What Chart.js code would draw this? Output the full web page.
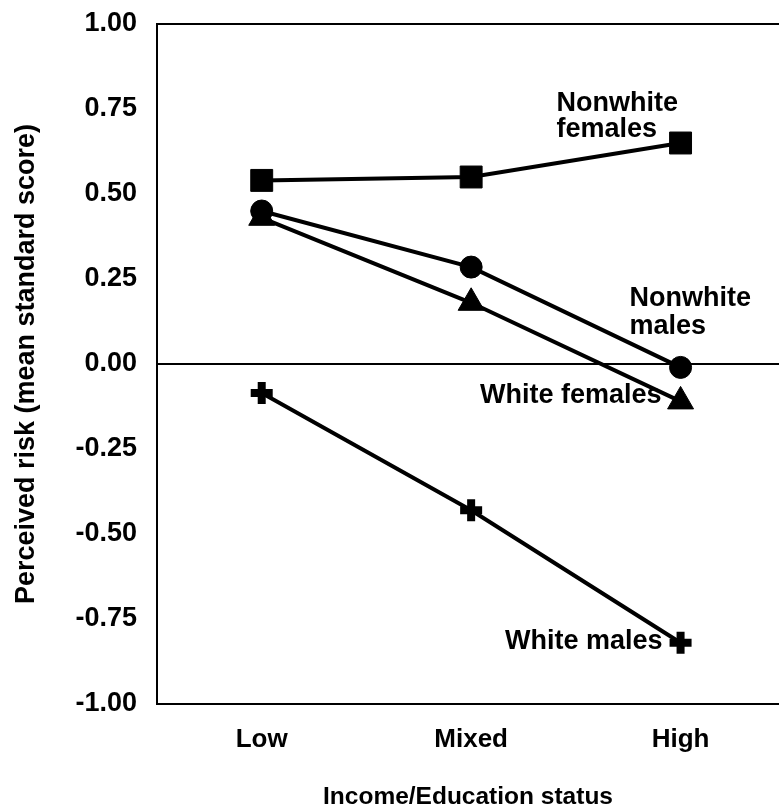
<!DOCTYPE html>
<html>
<head>
<meta charset="utf-8">
<script src="https://cdn.jsdelivr.net/npm/chart.js@4"></script>
<style>
  html, body { margin: 0; padding: 0; background: #fff; }
  #c { display: block; }
</style>
</head>
<body>
<canvas id="c" width="779" height="809"></canvas>
<script>
// ---- data ----
const categories = ['Low', 'Mixed', 'High'];
const nonwhiteFemales = [0.54, 0.55, 0.65];
const nonwhiteMales = [0.45, 0.285, -0.01];
const whiteFemales = [0.43, 0.18, -0.11];
const whiteMales = [-0.085, -0.43, -0.82];
const yTickValues = [-1.00, -0.75, -0.50, -0.25, 0.00, 0.25, 0.50, 0.75, 1.00];
const seriesNames = ['Nonwhite females', 'Nonwhite males', 'White females', 'White males'];

const FONT = '"Liberation Sans", Arial, Helvetica, sans-serif';

function toPoints(arr) {
  return arr.map((v, i) => ({ x: i + 1, y: v }));
}

function ds(label, data, style, radius, pbw) {
  return {
    label: label,
    data: toPoints(data),
    borderColor: '#000',
    backgroundColor: '#000',
    borderWidth: 4,
    pointStyle: style,
    pointRadius: radius,
    pointBorderWidth: pbw,
    pointBackgroundColor: '#000',
    pointBorderColor: '#000',
    tension: 0,
    fill: false
  };
}

// labels drawn next to the "High" point of each series
const seriesLabelLayout = [
  { lines: ['Nonwhite', 'females'], dx: -124, dy: [-39, -13], align: 'left' },
  { lines: ['Nonwhite', 'males'], dx: -51, dy: [-69, -41], align: 'left' },
  { lines: ['White females'], dx: -19, dy: [-6], align: 'right' },
  { lines: ['White males'], dx: -18, dy: [-1], align: 'right' }
];

const labelPlugin = {
  id: 'seriesLabels',
  afterDatasetsDraw(chart) {
    const ctx = chart.ctx;
    ctx.save();
    ctx.fillStyle = '#000';
    ctx.font = 'bold 27px ' + FONT;
    ctx.textBaseline = 'middle';
    seriesLabelLayout.forEach((lay, i) => {
      const meta = chart.getDatasetMeta(i);
      const pt = meta.data[meta.data.length - 1];
      ctx.textAlign = lay.align;
      lay.lines.forEach((t, k) => {
        ctx.fillText(t, pt.x + lay.dx, pt.y + lay.dy[k]);
      });
    });
    ctx.restore();
  }
};

new Chart(document.getElementById('c'), {
  type: 'line',
  data: {
    datasets: [
      ds(seriesNames[0], nonwhiteFemales, 'rect', 15.5, 1),
      ds(seriesNames[1], nonwhiteMales, 'circle', 11, 1),
      ds(seriesNames[2], whiteFemales, 'triangle', 15, 1),
      ds(seriesNames[3], whiteMales, 'cross', 11, 8)
    ]
  },
  options: {
    responsive: false,
    animation: false,
    devicePixelRatio: 1,
    layout: { autoPadding: false, padding: { top: 24, right: 0, bottom: 0, left: 0 } },
    plugins: {
      legend: { display: false },
      tooltip: { enabled: false }
    },
    scales: {
      x: {
        type: 'linear',
        min: 0.5,
        max: 3.47,
        afterBuildTicks: (s) => { s.ticks = categories.map((c, i) => ({ value: i + 1 })); },
        afterFit: (s) => { s.height = 105; s.paddingLeft = 0; s.paddingRight = 0; },
        ticks: {
          callback: (v) => categories[Math.round(v) - 1] || '',
          font: { family: FONT, size: 26, weight: 'bold' },
          color: '#000',
          padding: 20,
          maxRotation: 0,
          autoSkip: false
        },
        grid: { display: false, drawTicks: false },
        border: { display: true, color: '#000', width: 2 },
        title: {
          display: true,
          text: 'Income/Education status',
          font: { family: FONT, size: 24.5, weight: 'bold', lineHeight: 1.0 },
          color: '#000',
          padding: { top: 0, bottom: 0 }
        }
      },
      y: {
        type: 'linear',
        min: -1,
        max: 1,
        afterBuildTicks: (s) => { s.ticks = yTickValues.map(v => ({ value: v })); },
        afterFit: (s) => { s.width = 157; s.paddingTop = 0; s.paddingBottom = 0; },
        ticks: {
          callback: (v) => Number(v).toFixed(2),
          font: { family: FONT, size: 27, weight: 'bold' },
          color: '#000',
          padding: 20
        },
        grid: {
          display: true,
          drawTicks: false,
          lineWidth: 2,
          color: (c) => (c.tick && (Math.abs(c.tick.value) < 1e-9 || Math.abs(c.tick.value - 1) < 1e-9)) ? '#000' : 'rgba(0,0,0,0)'
        },
        border: { display: true, color: '#000', width: 2 },
        title: {
          display: true,
          text: 'Perceived risk (mean standard score)',
          font: { family: FONT, size: 27, weight: 'bold' },
          color: '#000',
          padding: { top: 10, bottom: 0 }
        }
      }
    }
  },
  plugins: [labelPlugin]
});
</script>
</body>
</html>
